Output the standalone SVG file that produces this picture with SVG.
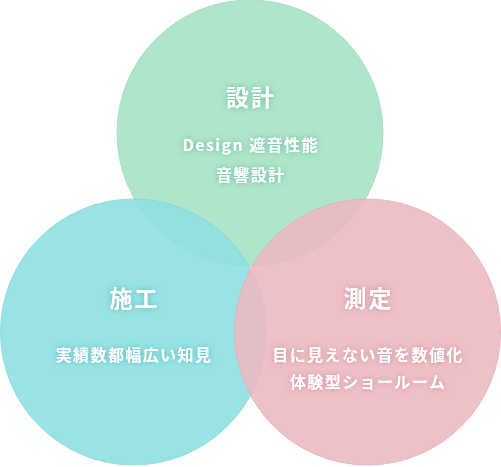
<svg xmlns="http://www.w3.org/2000/svg" width="501" height="467" viewBox="0 0 501 467">
  <defs>
    <style>
      .c { stroke-width: 1; }
      .t { font-family: "Noto Sans CJK JP", "Noto Sans", sans-serif; font-weight: 700; fill: #ffffff; text-anchor: middle; }
      .h { font-size: 23px; letter-spacing: 2px; }
      .s { font-size: 16px; letter-spacing: 1.4px; }
    </style>
    <filter id="gG" x="-20%" y="-50%" width="140%" height="200%">
      <feDropShadow dx="0" dy="0" stdDeviation="3" flood-color="#5fb58f" flood-opacity="0.9"/>
    </filter>
    <filter id="gC" x="-20%" y="-50%" width="140%" height="200%">
      <feDropShadow dx="0" dy="0" stdDeviation="3" flood-color="#4fb4bb" flood-opacity="0.9"/>
    </filter>
    <filter id="gP" x="-20%" y="-50%" width="140%" height="200%">
      <feDropShadow dx="0" dy="0" stdDeviation="3" flood-color="#c98791" flood-opacity="0.9"/>
    </filter>
  </defs>
  <g id="design">
    <circle class="c" cx="250" cy="133" r="133" fill="#a7e3c6" stroke="#9ddcbd" opacity="0.9"/>
  </g>
  <g id="construction">
    <circle class="c" cx="133.5" cy="332" r="133" fill="#8fe0e3" stroke="#86d8dc" opacity="0.9"/>
  </g>
  <g id="measurement">
    <circle class="c" cx="367.5" cy="332" r="133" fill="#edbac2" stroke="#e4b0b8" opacity="0.9"/>
  </g>
  <g id="labels">
    <g filter="url(#gG)">
      <text class="t h" x="251" y="106">設計</text>
      <text class="t s" x="250.7" y="151">Design 遮音性能</text>
      <text class="t s" x="250.7" y="181">音響設計</text>
    </g>
    <g filter="url(#gC)">
      <text class="t h" x="134.5" y="307">施工</text>
      <text class="t s" x="134" y="361">実績数都幅広い知見</text>
    </g>
    <g filter="url(#gP)">
      <text class="t h" x="368.5" y="307">測定</text>
      <text class="t s" x="368" y="361">目に見えない音を数値化</text>
      <text class="t s" x="368" y="388">体験型ショールーム</text>
    </g>
  </g>
</svg>
